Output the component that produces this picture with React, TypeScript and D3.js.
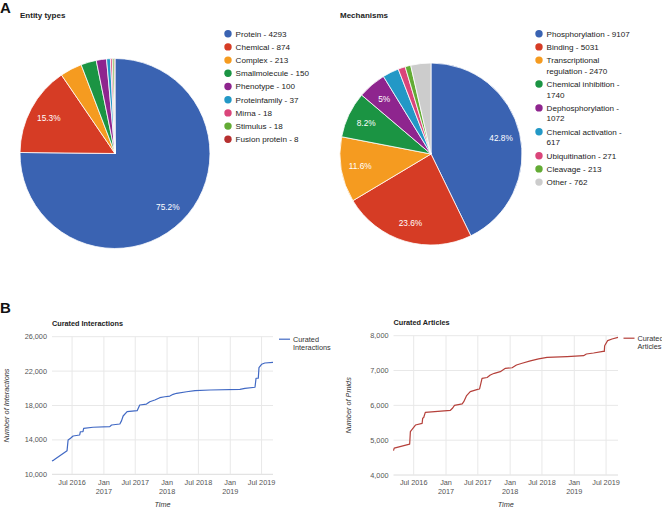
import React from "react";
import * as d3 from "d3";

// ---------- DATA ----------
const entityTypes = ["Protein", "Chemical", "Complex", "Smallmolecule", "Phenotype", "Proteinfamily", "Mirna", "Stimulus", "Fusion protein"];
const entityCounts = [4293, 874, 213, 150, 100, 37, 18, 18, 8];
const entityColors = ["#3a63b2", "#d63c25", "#f59b20", "#1b9443", "#8e258e", "#2398c6", "#da457a", "#63ab35", "#b63030"];

const mechanisms = ["Phosphorylation", "Binding", "Transcriptional regulation", "Chemical inhibition", "Dephosphorylation", "Chemical activation", "Ubiquitination", "Cleavage", "Other"];
const mechanismCounts = [9107, 5031, 2470, 1740, 1072, 617, 271, 213, 762];
const mechanismColors = ["#3a63b2", "#d63c25", "#f59b20", "#1b9443", "#8e258e", "#2398c6", "#da457a", "#63ab35", "#cccccc"];

const interactionDates = [
  "2016-03-07", "2016-03-17", "2016-06-02", "2016-06-08", "2016-06-22", "2016-07-07", "2016-08-14", "2016-08-18",
  "2016-09-02", "2016-09-06", "2016-10-30", "2017-02-04", "2017-02-14", "2017-04-03", "2017-04-13", "2017-04-22",
  "2017-05-15", "2017-07-12", "2017-07-27", "2017-09-04", "2017-09-23", "2017-10-22", "2017-11-20", "2017-12-19",
  "2018-01-17", "2018-02-05", "2018-02-25", "2018-04-24", "2018-06-11", "2018-09-06", "2019-02-26", "2019-03-27",
  "2019-05-24", "2019-05-30", "2019-06-12", "2019-06-16", "2019-07-01", "2019-07-20", "2019-09-05"
];
const interactionCounts = [
  11550, 11650, 12750, 13990, 14190, 14450, 14570, 14950,
  14950, 15350, 15470, 15540, 15730, 15850, 16240, 16780,
  17280, 17400, 18060, 18170, 18440, 18640, 18910, 19020,
  19100, 19300, 19420, 19600, 19720, 19800, 19880, 20000,
  20120, 21170, 21170, 22400, 22790, 22940, 23020
];

const articleDates = [
  "2016-03-08", "2016-03-12", "2016-06-08", "2016-06-12", "2016-06-22", "2016-07-11", "2016-08-18", "2016-08-21",
  "2016-08-27", "2016-09-05", "2017-01-26", "2017-02-08", "2017-02-18", "2017-04-03", "2017-04-12", "2017-04-27",
  "2017-05-19", "2017-06-30", "2017-07-11", "2017-07-25", "2017-08-23", "2017-09-10", "2017-10-03", "2017-11-06",
  "2017-12-05", "2018-01-12", "2018-02-06", "2018-03-10", "2018-04-26", "2018-06-12", "2018-07-30", "2018-11-21",
  "2019-02-23", "2019-03-11", "2019-04-21", "2019-06-14", "2019-06-21", "2019-06-23", "2019-07-10", "2019-08-04",
  "2019-09-07"
];
const articleCounts = [
  4700, 4770, 4885, 5243, 5310, 5435, 5483, 5627,
  5650, 5800, 5858, 5923, 6000, 6040, 6105, 6270,
  6395, 6460, 6470, 6776, 6800, 6870, 6920, 6967,
  7063, 7080, 7160, 7210, 7275, 7333, 7380, 7400,
  7425, 7474, 7503, 7550, 7550, 7713, 7857, 7906,
  7954
];

const interactionTicks = [10000, 14000, 18000, 22000, 26000];
const articleTicks = [4000, 5000, 6000, 7000, 8000];
const timeTickDates = ["2016-07-01", "2017-01-01", "2017-07-01", "2018-01-01", "2018-07-01", "2019-01-01", "2019-07-01"];
const timeTickLabels = [["Jul 2016"], ["Jan", "2017"], ["Jul 2017"], ["Jan", "2018"], ["Jul 2018"], ["Jan", "2019"], ["Jul 2019"]];

// ---------- HELPERS ----------
const FONT = "'Liberation Sans', Arial, sans-serif";
const parse = d3.utcParse("%Y-%m-%d");
const pct = d3.format(".1~%");
const num = d3.format(",");

function wrap(text: string, maxChars: number): string[] {
  const words = text.split(" ");
  const lines: string[] = [];
  let cur = "";
  for (const w of words) {
    const cand = cur ? cur + " " + w : w;
    if (cand.length > maxChars && cur) {
      lines.push(cur);
      cur = w;
    } else cur = cand;
  }
  if (cur) lines.push(cur);
  return lines;
}

type PieProps = {
  title: string; titleX: number; titleY: number;
  cx: number; cy: number; r: number;
  names: string[]; counts: number[]; colors: string[];
  legendX: number; legendY: number;
};

function PieChart(p: PieProps) {
  const data = p.counts.map((v, i) => ({ v, i }));
  const total = d3.sum(p.counts);
  const arcs = d3.pie<{ v: number; i: number }>().sort(null).value((d) => d.v)(data);
  const arc = d3.arc<d3.PieArcDatum<{ v: number; i: number }>>().innerRadius(0).outerRadius(p.r);
  const labelArc = d3.arc<d3.PieArcDatum<{ v: number; i: number }>>().innerRadius(p.r * 0.79).outerRadius(p.r * 0.79);

  let ly = p.legendY;
  const legendItems = p.names.map((n, i) => {
    const lines = wrap(`${n} - ${p.counts[i]}`, 23);
    const y = ly;
    ly += 13.2 + (lines.length - 1) * 10.7;
    return { lines, y, i };
  });

  return (
    <g>
      <text x={p.titleX} y={p.titleY} fontFamily={FONT} fontSize={8} fontWeight="bold" fill="#222">{p.title}</text>
      <g transform={`translate(${p.cx},${p.cy})`}>
        {arcs.map((a) => (
          <path key={a.index} d={arc(a) || ""} fill={p.colors[a.index]} stroke="#fff" strokeWidth={0.8} />
        ))}
        {arcs.filter((a) => a.data.v / total >= 0.045).map((a) => {
          const [x, y] = labelArc.centroid(a);
          return (
            <text key={"l" + a.index} x={x} y={y} dy="0.35em" textAnchor="middle" fontFamily={FONT} fontSize={8.3} fill="#fff">
              {pct(a.data.v / total)}
            </text>
          );
        })}
      </g>
      {legendItems.map((it) => (
        <g key={"lg" + it.i}>
          <circle cx={p.legendX} cy={it.y} r={3.7} fill={p.colors[it.i]} />
          {it.lines.map((l, j) => (
            <text key={j} x={p.legendX + 7.6} y={it.y + j * 10.7} dy="0.35em" fontFamily={FONT} fontSize={8.1} fill="#222">{l}</text>
          ))}
        </g>
      ))}
    </g>
  );
}

type LineProps = {
  title: string;
  dates: string[]; values: number[]; ticks: number[];
  x0: number; x1: number; yTop: number; yBottom: number;
  color: string; yTitle: string; yTitleX: number;
  legendLines: string[]; legendX: number;
};

function LineChart(p: LineProps) {
  const pts = p.dates.map((d, i) => ({ t: parse(d) as Date, v: p.values[i] }));
  const x = d3.scaleUtc().domain(d3.extent(pts, (d) => d.t) as [Date, Date]).range([p.x0, p.x1]);
  const y = d3.scaleLinear().domain([p.ticks[0], p.ticks[p.ticks.length - 1]]).range([p.yBottom, p.yTop]);
  const line = d3.line<{ t: Date; v: number }>().x((d) => x(d.t)).y((d) => y(d.v));
  const tickDates = timeTickDates.map((d) => parse(d) as Date);
  const midY = (p.yTop + p.yBottom) / 2;
  return (
    <g>
      <text x={p.x0} y={p.yTop - 10.5} fontFamily={FONT} fontSize={7.3} fontWeight="bold" fill="#222">{p.title}</text>
      {p.ticks.map((t) => (
        <line key={"h" + t} x1={p.x0} x2={p.x1} y1={y(t)} y2={y(t)} stroke={t === p.ticks[0] ? "#dcdcdc" : "#e8e8e8"} strokeWidth={1} />
      ))}
      {tickDates.map((d, i) => (
        <line key={"v" + i} x1={x(d)} x2={x(d)} y1={p.yTop} y2={p.yBottom} stroke="#e8e8e8" strokeWidth={1} />
      ))}
      {p.ticks.map((t) => (
        <text key={"yt" + t} x={p.x0 - 5} y={y(t)} dy="0.35em" textAnchor="end" fontFamily={FONT} fontSize={7.3} fill="#555">{num(t)}</text>
      ))}
      {tickDates.map((d, i) => (
        <text key={"xt" + i} x={x(d)} y={p.yBottom + 10.2} textAnchor="middle" fontFamily={FONT} fontSize={7.3} fill="#555">
          {timeTickLabels[i].map((l, j) => (
            <tspan key={j} x={x(d)} dy={j === 0 ? 0 : 9}>{l}</tspan>
          ))}
        </text>
      ))}
      <path d={line(pts) || ""} fill="none" stroke={p.color} strokeWidth={1.2} strokeLinejoin="round" />
      <text x={(p.x0 + p.x1) / 2} y={507} textAnchor="middle" fontFamily={FONT} fontSize={7.3} fontStyle="italic" fill="#333">Time</text>
      <text transform={`translate(${p.yTitleX},${midY}) rotate(-90)`} textAnchor="middle" dy="0.35em" fontFamily={FONT} fontSize={7.3} fontStyle="italic" fill="#333">{p.yTitle}</text>
      <line x1={p.legendX} x2={p.legendX + 11} y1={p.yTop + 2.5} y2={p.yTop + 2.5} stroke={p.color} strokeWidth={1.2} />
      {p.legendLines.map((l, j) => (
        <text key={j} x={p.legendX + 14} y={p.yTop + 2.5 + j * 8} dy="0.35em" fontFamily={FONT} fontSize={7.3} fill="#333">{l}</text>
      ))}
    </g>
  );
}

export default function App() {
  return (
    <div style={{ position: "absolute", left: 0, top: 0 }}>
      <svg width={662} height={509} style={{ display: "block", background: "#fff" }}>
        <text x={0} y={12.5} fontFamily={FONT} fontSize={15} fontWeight="bold" fill="#111">A</text>
        <text x={0} y={312.7} fontFamily={FONT} fontSize={15} fontWeight="bold" fill="#111">B</text>
        <PieChart title="Entity types" titleX={20} titleY={18} cx={115} cy={153.5} r={95}
          names={entityTypes} counts={entityCounts} colors={entityColors} legendX={228} legendY={33.7} />
        <PieChart title="Mechanisms" titleX={340} titleY={18} cx={431} cy={154} r={91}
          names={mechanisms} counts={mechanismCounts} colors={mechanismColors} legendX={539} legendY={33.7} />
        <LineChart title="Curated Interactions" dates={interactionDates} values={interactionCounts} ticks={interactionTicks}
          x0={52} x1={273} yTop={336.7} yBottom={474.3} color="#4169c4" yTitle="Number of Interactions" yTitleX={6}
          legendLines={["Curated", "Interactions"]} legendX={279} />
        <LineChart title="Curated Articles" dates={articleDates} values={articleCounts} ticks={articleTicks}
          x0={393.5} x1={618} yTop={335.7} yBottom={475} color="#b5403a" yTitle="Number of Pmids" yTitleX={348}
          legendLines={["Curated", "Articles"]} legendX={623.5} />
      </svg>
    </div>
  );
}
